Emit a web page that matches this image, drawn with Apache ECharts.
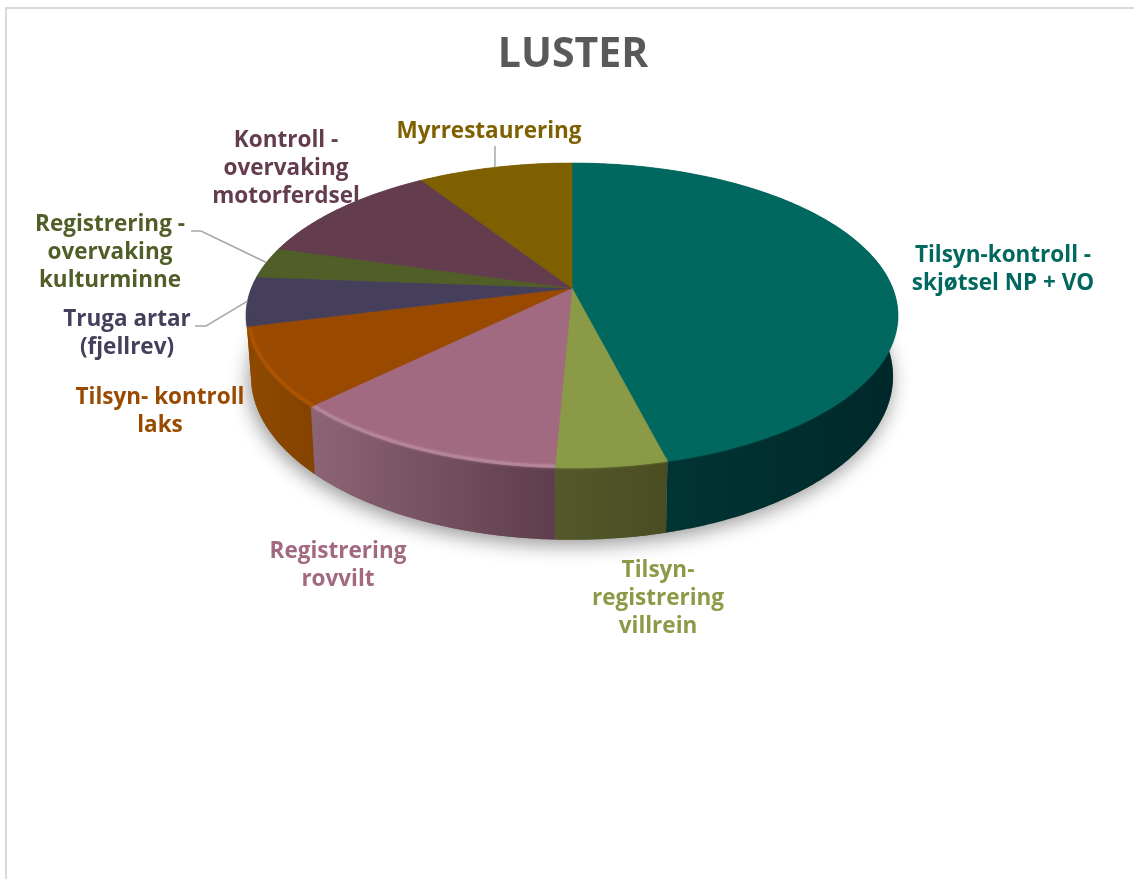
<!DOCTYPE html>
<html>
<head>
<meta charset="utf-8">
<title>LUSTER</title>
<script src="https://cdn.jsdelivr.net/npm/echarts@6/dist/echarts.min.js"></script>
<style>
  html, body { margin: 0; padding: 0; background: #fff; }
  #chart { width: 1134px; height: 879px; }
</style>
</head>
<body>
<div id="chart"></div>
<script>
// data (percent, clockwise from 12 o'clock)
var categories = [
  'Tilsyn-kontroll -\nskjøtsel NP + VO',
  'Tilsyn-\nregistrering\nvillrein',
  'Registrering\nrovvilt',
  'Tilsyn- kontroll\nlaks',
  'Truga artar\n(fjellrev)',
  'Registrering -\novervaking\nkulturminne',
  'Kontroll -\novervaking\nmotorferdsel',
  'Myrrestaurering'
];
var shares = [46.05, 4.65, 11.9, 8.4, 5.2, 3.3, 11.4, 9.1];

var topColors = ['#00685f', '#8a9a46', '#a26a80', '#9a4a00', '#463f5c', '#515e27', '#633c4e', '#7f6000'];
var labelColors = ['#00685f', '#8a9a46', '#a26a80', '#9a4a00', '#463f5c', '#515e27', '#633c4e', '#7f6000'];
// the wall behind orange's left edge stays orange, no navy sliver shows in the original
var wallLeft = ['#013a36', '#55582a', '#8c6476', '#8f4900', '#8a4700', '#414b1f', '#4f303e', '#664d00'];
var wallRight = ['#00282a', '#4a4d22', '#5e3d4c', '#854300', '#8a4700', '#414b1f', '#4f303e', '#664d00'];
var bevelColors = ['#00685f', '#8a9a46', '#b5869a', '#ad5500', '#463f5c', '#515e27', '#633c4e', '#7f6000'];

// label centres in pixels
var labelX = [1003, 658, 338, 160, 127, 110, 286, 489];
var labelY = [270, 599, 566, 412, 334, 253, 169, 132];

// pie geometry: a tilted disc, drawn as a perspective view of a circle
var apexX = 572, apexY = 288;
var radX = 320.6, radY = 147.5, persp = 0.18, depth = 59, shrink = 0.985;

function topPoint(t) {
  var w = 1 + persp * Math.cos(t);
  return [apexX + radX * Math.sin(t) / w, apexY - radY * Math.cos(t) / w];
}
function bottomPoint(t) {
  var w = 1 + persp * Math.cos(t);
  var p = topPoint(t);
  return [apexX + (p[0] - apexX) * shrink, p[1] + depth / w];
}
function bevelPoint(t) {
  var p = topPoint(t);
  return [apexX + (p[0] - apexX) * 0.992, apexY + (p[1] - apexY) * 0.992];
}
function arc(fn, t0, t1) {
  var pts = [];
  var n = Math.max(2, Math.ceil((t1 - t0) / 0.01));
  for (var i = 0; i <= n; i++) {
    pts.push(fn(t0 + (t1 - t0) * i / n));
  }
  return pts;
}

var total = shares.reduce(function (a, b) { return a + b; }, 0);
var starts = [];
shares.reduce(function (acc, v, i) {
  starts[i] = acc / total * Math.PI * 2;
  return acc + v;
}, 0);
function sliceEnd(i) { return starts[i] + shares[i] / total * Math.PI * 2; }

function renderShadow(params) {
  if (params.dataIndex !== 0) return;
  return {
    type: 'polygon',
    shape: { points: arc(bottomPoint, 0, Math.PI * 2) },
    style: { fill: '#777', shadowBlur: 20, shadowColor: 'rgba(0,0,0,0.42)', shadowOffsetX: -2, shadowOffsetY: 5 }
  };
}

function renderWall(params) {
  var i = params.dataIndex;
  var t0 = starts[i], t1 = sliceEnd(i);
  var upper = arc(topPoint, t0, t1);
  var lower = arc(bottomPoint, t0, t1).reverse();
  var xs = upper.map(function (p) { return p[0]; });
  var minX = Math.min.apply(null, xs), maxX = Math.max.apply(null, xs);
  return {
    type: 'polygon',
    shape: { points: upper.concat(lower) },
    style: {
      fill: new echarts.graphic.LinearGradient(minX, 0, maxX, 0, [
        { offset: 0, color: wallLeft[i] },
        { offset: 1, color: wallRight[i] }
      ], true)
    }
  };
}

function renderTop(params) {
  var i = params.dataIndex;
  var t0 = starts[i], t1 = sliceEnd(i);
  var rim = arc(topPoint, t0, t1);
  var children = [{
    type: 'polygon',
    shape: { points: [[apexX, apexY]].concat(rim) },
    style: { fill: topColors[i], stroke: topColors[i], lineWidth: 0.6 }
  }];
  // soft bevel along the front edge
  var fromT = Math.max(t0, Math.PI * 0.55), toT = Math.min(t1, Math.PI * 1.45);
  if (toT > fromT) {
    children.push({
      type: 'polyline',
      shape: { points: arc(bevelPoint, fromT, toT) },
      style: { fill: null, stroke: bevelColors[i], lineWidth: 3, opacity: 0.85, shadowBlur: 3, shadowColor: bevelColors[i] }
    });
  }
  return { type: 'group', children: children };
}

function renderLabel(params) {
  var i = params.dataIndex;
  return {
    type: 'text',
    style: {
      text: categories[i],
      x: labelX[i],
      y: labelY[i],
      fill: labelColors[i],
      align: 'center',
      verticalAlign: 'middle',
      font: 'bold 22.5px "Open Sans", sans-serif',
      lineHeight: 28
    }
  };
}

// leader lines go from a label to the middle of the slice's rim
function renderLeader(params) {
  var i = params.dataIndex;
  var mid = topPoint((starts[i] + sliceEnd(i)) / 2);
  var pts;
  if (i === 4) pts = [[195, 326], [206, 326], mid];
  else if (i === 5) pts = [[191, 231], [201, 231], mid];
  else if (i === 7) pts = [[495, 146], mid];
  else return;
  return {
    type: 'polyline',
    shape: { points: pts },
    style: { fill: null, stroke: '#a6a6a6', lineWidth: 1.5 }
  };
}

function layer(fn, z) {
  return { type: 'custom', coordinateSystem: 'none', renderItem: fn, data: shares, z: z, silent: true, animation: false };
}

var myChart = echarts.init(document.getElementById('chart'), null, { renderer: 'canvas' });
myChart.setOption({
  animation: false,
  backgroundColor: '#fff',
  title: {
    text: 'LUSTER',
    left: 568,
    top: 30,
    textAlign: 'center',
    textStyle: { color: '#595959', fontSize: 41, fontWeight: 'bold', fontFamily: '"Open Sans", sans-serif' }
  },
  graphic: [
    { type: 'line', shape: { x1: 5, y1: 8, x2: 1134, y2: 8 }, style: { stroke: '#d9d9d9', lineWidth: 2 } },
    { type: 'line', shape: { x1: 6, y1: 8, x2: 6, y2: 879 }, style: { stroke: '#d9d9d9', lineWidth: 2 } }
  ],
  series: [
    layer(renderShadow, 1),
    layer(renderWall, 2),
    layer(renderTop, 3),
    layer(renderLeader, 4),
    layer(renderLabel, 5)
  ]
});
</script>
</body>
</html>
